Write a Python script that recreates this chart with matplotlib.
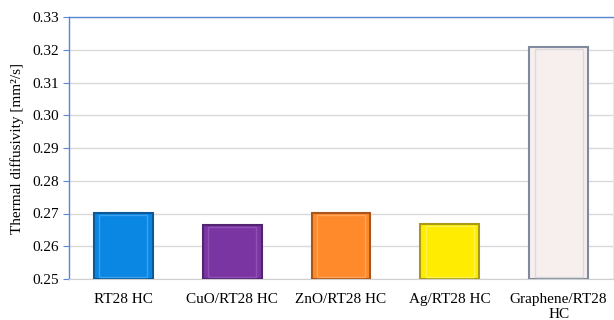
import numpy as np
import matplotlib.pyplot as plt

categories = ['RT28 HC', 'CuO/RT28 HC', 'ZnO/RT28 HC', 'Ag/RT28 HC', 'Graphene/RT28\nHC']
diffusivity = [0.2702, 0.2665, 0.2702, 0.2667, 0.3208]
face_colors = ['#0A86E3', '#7A35A2', '#FF8A2C', '#FFEC00', '#F7EEEE']
edge_colors = ['#0B5A97', '#52236F', '#A8561A', '#A89A14', '#7F8A9E']
inner_colors = ['#3CA2EE', '#9150B6', '#FFA45A', '#FFF34D', '#DADADA']

plt.rcParams['font.family'] = ['Liberation Serif', 'DejaVu Serif']

fig = plt.figure(figsize=(6.14, 3.2), dpi=100)
ax = fig.add_axes([69 / 614, 41 / 320, 544 / 614, 262 / 320])

x = np.arange(len(categories))
base = 0.25
heights = np.array(diffusivity) - base
ax.bar(x, heights, width=0.54, bottom=base, color=face_colors,
       edgecolor=edge_colors, linewidth=1.5, zorder=3)
# inner bevel outline
ax.bar(x, heights - 0.0012, width=0.44, bottom=base + 0.0006, color='none',
       edgecolor=inner_colors, linewidth=1.0, zorder=4)

ax.set_ylim(0.25, 0.33)
ax.set_xlim(-0.5, len(categories) - 0.5)
ax.set_yticks(np.arange(0.25, 0.3301, 0.01))
ax.set_yticklabels(['%.2f' % v for v in np.arange(0.25, 0.3301, 0.01)])
ax.set_xticks(x)
ax.set_xticklabels(categories)
ax.tick_params(axis='x', length=0, labelsize=11, pad=10)
ax.tick_params(axis='y', length=4, color='#5B86D6', labelsize=11, pad=3)
ax.yaxis.grid(True, color='#DADADA', linewidth=1.0, zorder=0)
ax.set_axisbelow(True)

for side in ['left', 'top']:
    ax.spines[side].set_color('#5B86D6')
    ax.spines[side].set_linewidth(1.0)
ax.spines['right'].set_color('#E8E8E8')
ax.spines['bottom'].set_color('#D0D0D0')

ax.set_ylabel('Thermal diffusivity [mm²/s]', fontsize=11, labelpad=6)

fig.savefig('out.png', dpi=100)
